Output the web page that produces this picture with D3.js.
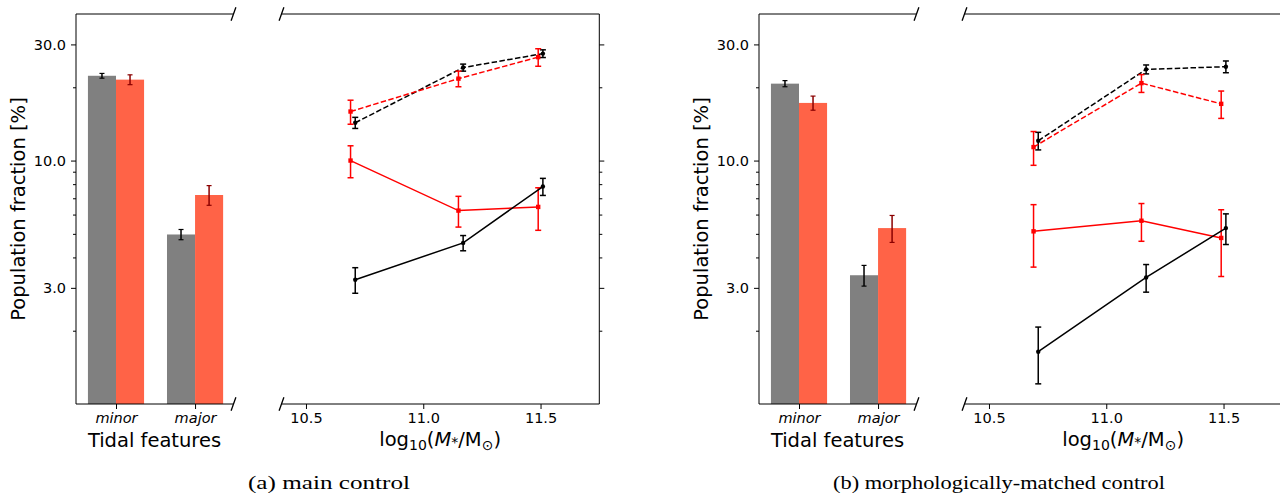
<!DOCTYPE html>
<html>
<head>
<meta charset="utf-8">
<script src="https://cdn.jsdelivr.net/npm/d3@7"></script>
<style>
  html, body { margin: 0; padding: 0; background: #fff; }
  svg { display: block; }
</style>
</head>
<body>
<svg id="chart" width="1280" height="494"></svg>
<script>
// ---------------- DATA ----------------
const categories = ["minor", "major"];
const yMajorTicks = [3, 10, 30];
const yMinorTicks = [2, 4, 5, 6, 7, 8, 9, 20];
const xMassTicks = [10.5, 11.0, 11.5];

// (a) main control — bar chart
const barsA_control = [22.3, 4.97];
const barsA_controlErr = [0.5, 0.24];
const barsA_sample = [21.5, 7.22];
const barsA_sampleErr = [1.0, 0.67];
// (b) morphologically-matched control — bar chart
const barsB_control = [20.7, 3.38];
const barsB_controlErr = [0.6, 0.33];
const barsB_sample = [17.25, 5.28];
const barsB_sampleErr = [1.15, 0.67];

// stellar mass bins (control slightly right, sample slightly left)
const massControl = [10.71, 11.17, 11.51];
const massSample = [10.69, 11.15, 11.49];

// (a) lines
const ctrlMinorA = [14.3, 24.1, 27.5];
const ctrlMinorAErr = [0.75, 0.8, 1.0];
const sampMinorA = [15.9, 21.7, 26.6];
const sampMinorAErr = [1.8, 1.6, 2.2];
const ctrlMajorA = [3.24, 4.59, 7.82];
const ctrlMajorAErr = [0.39, 0.33, 0.63];
const sampMajorA = [10.0, 6.23, 6.45];
const sampMajorAErr = [1.5, 0.9, 1.28];

// (b) lines
const ctrlMinorB = [12.06, 23.7, 24.3];
const ctrlMinorBErr = [1.0, 1.0, 1.35];
const sampMinorB = [11.36, 20.8, 17.1];
const sampMinorBErr = [1.8, 1.75, 2.2];
const ctrlMajorB = [1.64, 3.31, 5.28];
const ctrlMajorBErr = [0.43, 0.43, 0.76];
const sampMajorB = [5.12, 5.66, 4.81];
const sampMajorBErr = [1.47, 1.0, 1.47];

const captions = ["(a) main control", "(b) morphologically-matched control"];

// ---------------- STYLE ----------------
const GREY = "#808080", TOMATO = "#ff6347", RED = "#ff0000", DARKRED = "#8b0000";
const TICKFONT = "DejaVu Sans, sans-serif";
const svg = d3.select("#chart");

function panel(offsetX, bars, lines, caption, captionWidth) {
  const g = svg.append("g").attr("transform", `translate(${offsetX},0)`);
  const top = 14, bottom = 404;
  const y = d3.scaleLog().domain([1, 40]).range([bottom, top]);

  // ---- bar subplot ----
  const bx0 = 76, bx1 = 233;
  const xb = d3.scaleLinear().domain([-0.506, 1.48]).range([bx0, bx1]);
  const bw = 0.355;
  const gb = g.append("g");
  const barSets = [
    {vals: bars.control, err: bars.controlErr, off: -bw, fill: GREY, ecol: "#000"},
    {vals: bars.sample, err: bars.sampleErr, off: 0, fill: TOMATO, ecol: DARKRED}
  ];
  barSets.forEach(s => {
    categories.forEach((c, i) => {
      gb.append("rect")
        .attr("x", xb(i + s.off)).attr("width", xb(i + s.off + bw) - xb(i + s.off))
        .attr("y", y(s.vals[i])).attr("height", bottom - y(s.vals[i]))
        .attr("fill", s.fill);
    });
    categories.forEach((c, i) => {
      const cx = xb(i + s.off + bw / 2);
      const y1 = y(s.vals[i] + s.err[i]), y2 = y(s.vals[i] - s.err[i]);
      gb.append("line").attr("x1", cx).attr("x2", cx).attr("y1", y1).attr("y2", y2)
        .attr("stroke", s.ecol).attr("stroke-width", 1.5);
      [y1, y2].forEach(yy => gb.append("line").attr("x1", cx - 2.5).attr("x2", cx + 2.5)
        .attr("y1", yy).attr("y2", yy).attr("stroke", s.ecol).attr("stroke-width", 1.2));
    });
  });

  // left y-axis
  const yAx = g.append("g").attr("transform", `translate(${bx0},0)`)
    .call(d3.axisLeft(y).tickValues(yMajorTicks).tickFormat(d3.format(".1f")).tickSize(5).tickPadding(5).tickSizeOuter(0));
  yAx.select(".domain").remove();
  yAx.selectAll("text").attr("font-family", TICKFONT).attr("font-size", 14.5).attr("fill", "#000");
  const yAxm = g.append("g").attr("transform", `translate(${bx0},0)`)
    .call(d3.axisLeft(y).tickValues(yMinorTicks).tickFormat("").tickSize(3).tickSizeOuter(0));
  yAxm.select(".domain").remove();

  // bottom category axis
  const xbAx = g.append("g").attr("transform", `translate(0,${bottom})`)
    .call(d3.axisBottom(xb).tickValues([0, 1]).tickFormat(i => categories[i]).tickSize(5).tickPadding(4).tickSizeOuter(0));
  xbAx.select(".domain").remove();
  xbAx.selectAll("text").attr("font-family", TICKFONT).attr("font-size", 14.5).attr("font-style", "italic").attr("fill", "#000");

  // spines
  g.append("line").attr("x1", bx0).attr("x2", bx0).attr("y1", top).attr("y2", bottom).attr("stroke", "#000");
  g.append("line").attr("x1", bx0).attr("x2", bx1).attr("y1", top).attr("y2", top).attr("stroke", "#000");
  g.append("line").attr("x1", bx0).attr("x2", bx1).attr("y1", bottom).attr("y2", bottom).attr("stroke", "#000");

  // ---- line subplot ----
  const lx0 = 281, lx1 = 599.3;
  const xl = d3.scaleLinear().domain([10.3935, 11.7505]).range([lx0, lx1]);
  const gl = g.append("g");
  const lineGen = d3.line().x(d => xl(d[0])).y(d => y(d[1]));
  lines.forEach(s => {
    const pts = s.x.map((xv, i) => [xv, s.v[i]]);
    gl.append("path").attr("d", lineGen(pts)).attr("fill", "none").attr("stroke", s.color)
      .attr("stroke-width", 1.5).attr("stroke-dasharray", s.dashed ? "5.5,2.4" : null);
    pts.forEach((p, i) => {
      const cx = xl(p[0]);
      const y1 = y(p[1] + s.e[i]), y2 = y(p[1] - s.e[i]);
      gl.append("line").attr("x1", cx).attr("x2", cx).attr("y1", y1).attr("y2", y2)
        .attr("stroke", s.color).attr("stroke-width", 1.5);
      [y1, y2].forEach(yy => gl.append("line").attr("x1", cx - 3).attr("x2", cx + 3)
        .attr("y1", yy).attr("y2", yy).attr("stroke", s.color).attr("stroke-width", 1.5));
      if (s.marker === "square") {
        gl.append("rect").attr("x", cx - 2.2).attr("y", y(p[1]) - 2.2).attr("width", 4.4).attr("height", 4.4).attr("fill", s.color);
      } else {
        gl.append("circle").attr("cx", cx).attr("cy", y(p[1])).attr("r", 2.2).attr("fill", s.color);
      }
    });
  });

  // bottom mass axis
  const xlAx = g.append("g").attr("transform", `translate(0,${bottom})`)
    .call(d3.axisBottom(xl).tickValues(xMassTicks).tickFormat(d3.format(".1f")).tickSize(5).tickPadding(4).tickSizeOuter(0));
  xlAx.select(".domain").remove();
  xlAx.selectAll("text").attr("font-family", TICKFONT).attr("font-size", 14.5).attr("fill", "#000");

  // right y ticks
  const yr = g.append("g").attr("transform", `translate(${lx1},0)`)
    .call(d3.axisRight(y).tickValues(yMajorTicks).tickFormat("").tickSize(5).tickSizeOuter(0));
  yr.select(".domain").remove();
  const yrm = g.append("g").attr("transform", `translate(${lx1},0)`)
    .call(d3.axisRight(y).tickValues(yMinorTicks).tickFormat("").tickSize(3).tickSizeOuter(0));
  yrm.select(".domain").remove();

  g.append("line").attr("x1", lx1).attr("x2", lx1).attr("y1", top).attr("y2", bottom).attr("stroke", "#000");
  g.append("line").attr("x1", lx0).attr("x2", lx1).attr("y1", top).attr("y2", top).attr("stroke", "#000");
  g.append("line").attr("x1", lx0).attr("x2", lx1).attr("y1", bottom).attr("y2", bottom).attr("stroke", "#000");

  // break marks
  [[bx1 + 0.5, top], [bx1 + 0.5, bottom], [lx0 + 0.5, top], [lx0 + 0.5, bottom]].forEach(([mx, my]) => {
    g.append("line").attr("x1", mx - 2.4).attr("y1", my + 6.8).attr("x2", mx + 2.4).attr("y2", my - 6.8)
      .attr("stroke", "#000").attr("stroke-width", 1.3);
  });

  // axis labels
  g.append("text").attr("transform", `translate(${25},${(top + bottom) / 2}) rotate(-90)`)
    .attr("text-anchor", "middle").attr("font-family", TICKFONT).attr("font-size", 19.5)
    .text("Population fraction [%]");
  g.append("text").attr("x", (bx0 + bx1) / 2).attr("y", 447).attr("text-anchor", "middle")
    .attr("font-family", TICKFONT).attr("font-size", 19.5).text("Tidal features");
  const lt = g.append("text").attr("x", (lx0 + lx1) / 2).attr("y", 446).attr("text-anchor", "middle")
    .attr("font-family", TICKFONT).attr("font-size", 19.5);
  lt.append("tspan").text("log");
  lt.append("tspan").attr("font-size", 14).attr("dy", 4).text("10");
  lt.append("tspan").attr("dy", -4).text("(");
  lt.append("tspan").attr("font-style", "italic").text("M");
  lt.append("tspan").attr("font-size", 14).attr("dy", 1).text("*");
  lt.append("tspan").attr("dy", -1).text("/M");
  lt.append("tspan").attr("font-size", 14).attr("dy", 4).text("\u2299");
  lt.append("tspan").attr("dy", -4).text(")");

  // caption
  g.append("text").attr("x", 0).attr("y", 0).attr("text-anchor", "middle")
    .attr("transform", `translate(${caption.cx},489)`)
    .attr("font-family", "Liberation Serif, DejaVu Serif, serif").attr("font-size", 18)
    .attr("textLength", captionWidth).attr("lengthAdjust", "spacingAndGlyphs")
    .text(caption.text);
}

panel(0,
  {control: barsA_control, controlErr: barsA_controlErr, sample: barsA_sample, sampleErr: barsA_sampleErr},
  [
    {x: massControl, v: ctrlMinorA, e: ctrlMinorAErr, color: "#000", dashed: true, marker: "circle"},
    {x: massSample, v: sampMinorA, e: sampMinorAErr, color: RED, dashed: true, marker: "square"},
    {x: massSample, v: sampMajorA, e: sampMajorAErr, color: RED, dashed: false, marker: "square"},
    {x: massControl, v: ctrlMajorA, e: ctrlMajorAErr, color: "#000", dashed: false, marker: "circle"}
  ],
  {text: captions[0], cx: 329}, 162);

panel(683,
  {control: barsB_control, controlErr: barsB_controlErr, sample: barsB_sample, sampleErr: barsB_sampleErr},
  [
    {x: massControl, v: ctrlMinorB, e: ctrlMinorBErr, color: "#000", dashed: true, marker: "circle"},
    {x: massSample, v: sampMinorB, e: sampMinorBErr, color: RED, dashed: true, marker: "square"},
    {x: massSample, v: sampMajorB, e: sampMajorBErr, color: RED, dashed: false, marker: "square"},
    {x: massControl, v: ctrlMajorB, e: ctrlMajorBErr, color: "#000", dashed: false, marker: "circle"}
  ],
  {text: captions[1], cx: 999 - 683}, 332);
</script>
</body>
</html>
